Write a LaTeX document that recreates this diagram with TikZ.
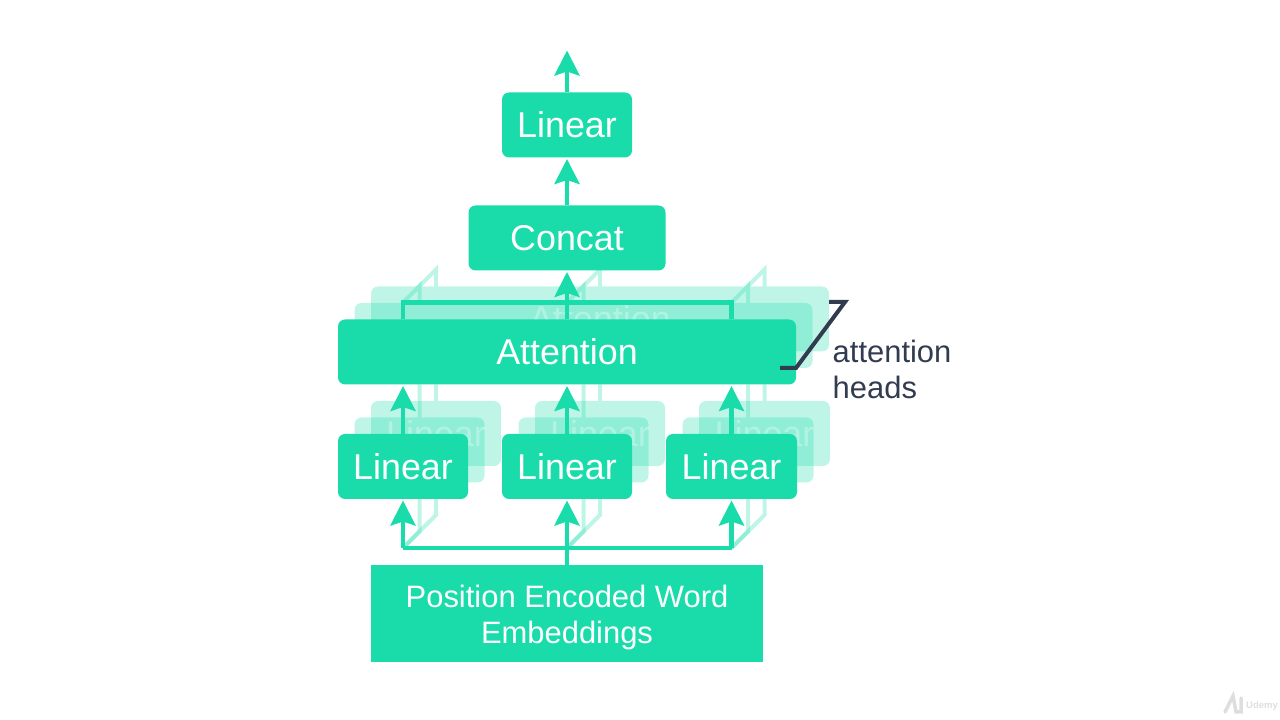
\documentclass[tikz,border=0pt]{standalone}
\usepackage{fontspec}
\setmainfont{Liberation Sans}
\usetikzlibrary{arrows.meta,positioning,calc,backgrounds}
\definecolor{headgreen}{RGB}{25,220,170}
\definecolor{labeldark}{RGB}{50,60,80}
\definecolor{logogrey}{RGB}{222,222,222}

\begin{document}
\begin{tikzpicture}[
    headbox/.style={rectangle, fill=headgreen, text=white, inner sep=0pt, outer sep=0pt,
        minimum height=0.65cm, rounded corners=0.07cm,
        font=\fontsize{10.2}{10.2}\selectfont},
    ghostbox/.style={headbox, text=white!70!headgreen},
    flow/.style={draw=headgreen, line width=0.045cm},
    flowup/.style={flow, -{Stealth[length=0.25cm, width=0.25cm, inset=0.04cm]}, shorten >=0.015cm},
    ghostline/.style={draw=headgreen, line width=0.04cm}
]
\useasboundingbox (0,0) rectangle (12.8,7.2);

\node[rectangle, fill=headgreen, text=white, minimum width=3.92cm, minimum height=0.97cm,
    inner sep=0pt, outer sep=0pt, align=center, font=\fontsize{8.8}{10.2}\selectfont]
    (embed) at (5.67,1.065) {\rule{0pt}{0.31cm}Position Encoded Word\\Embeddings};
\node[headbox, minimum width=1.30cm, above=0.66cm of embed] (linB) {Linear};
\node[headbox, minimum width=1.30cm, left=0.34cm of linB] (linA) {Linear};
\node[headbox, minimum width=1.31cm, right=0.34cm of linB] (linC) {Linear};
\node[headbox, minimum width=4.58cm, above=0.495cm of linB] (attn) {Attention};
\node[headbox, minimum width=1.97cm, above=0.49cm of attn] (concat) {Concat};
\node[headbox, minimum width=1.30cm, above=0.48cm of concat] (linTop) {Linear};
\coordinate[above=0.42cm of linTop] (output);

% split points of the two buses
\coordinate (busB) at ($(embed.north)+(0,0.17)$);
\coordinate (busA) at (linA |- busB);
\coordinate (busC) at (linC |- busB);
\coordinate (topB) at ($(attn.north)+(0,0.17)$);
\coordinate (topA) at (linA |- topB);
\coordinate (topC) at (linC |- topB);

% the heads behind the front one
\foreach \off/\tag in {0.33/b,0.165/a}{
\begin{scope}[on background layer]
\begin{scope}[transparency group, opacity=0.28]
    \foreach \n in {A,B,C}{
        \draw[ghostline] (bus\n) -- ++(\off,\off) -- ($(lin\n |- attn.south)+(\off,0)$);
        \draw[ghostline] (top\n) -- ++(\off,\off) -- ($(top\n)+(\off,-0.17)$);
    }
    \node[ghostbox, minimum width=1.30cm] (ghostA\tag) at ($(linA)+(\off,\off)$) {Linear};
    \node[ghostbox, minimum width=1.30cm] (ghostB\tag) at ($(linB)+(\off,\off)$) {Linear};
    \node[ghostbox, minimum width=1.31cm] (ghostC\tag) at ($(linC)+(\off,\off)$) {Linear};
    \node[ghostbox, minimum width=4.58cm] (ghostAttn\tag) at ($(attn)+(\off,\off)$) {Attention};
\end{scope}
\end{scope}
}

\draw[flow] (busA) -- (busC);
\draw[flow] (embed.north) -- (busB);
\draw[flowup] (busA) -- (linA.south);
\draw[flowup] (busB) -- (linB.south);
\draw[flowup] (busC) -- (linC.south);
\draw[flowup] (linA.north) -- (attn.south -| linA);
\draw[flowup] (linB.north) -- (attn.south);
\draw[flowup] (linC.north) -- (attn.south -| linC);
\draw[flow] (attn.north -| linA) -- (topA) -- (topC) -- (attn.north -| linC);
\draw[flowup] (attn.north) -- (concat.south);
\draw[flowup] (concat.north) -- (linTop.south);
\draw[flowup, shorten >=0pt] (linTop.north) -- (output);

% bracket for the heads
\draw[labeldark, line width=0.04cm, miter limit=20]
    ($(attn.east)+(-0.16,-0.16)$) -- ($(attn.east)+(0,-0.16)$)
    -- ($(attn.east)+(0.49,0.50)$) -- ($(attn.east)+(0.33,0.50)$);
\node[right=0.36cm of attn.east, yshift=-0.175cm, inner sep=0pt, align=left, text=labeldark,
    font=\fontsize{8.8}{10}\selectfont] (headsLabel) {attention\\heads};

% watermark
\node[inner sep=0pt, text=logogrey, font=\bfseries\fontsize{2.7}{3}\selectfont] (mark) at (12.62,0.14) {Udemy};
\draw[logogrey, line width=0.035cm, line cap=round] (12.25,0.08) -- (12.33,0.24) -- (12.36,0.08) -- (12.41,0.08) -- (12.41,0.22);
\end{tikzpicture}
\end{document}
